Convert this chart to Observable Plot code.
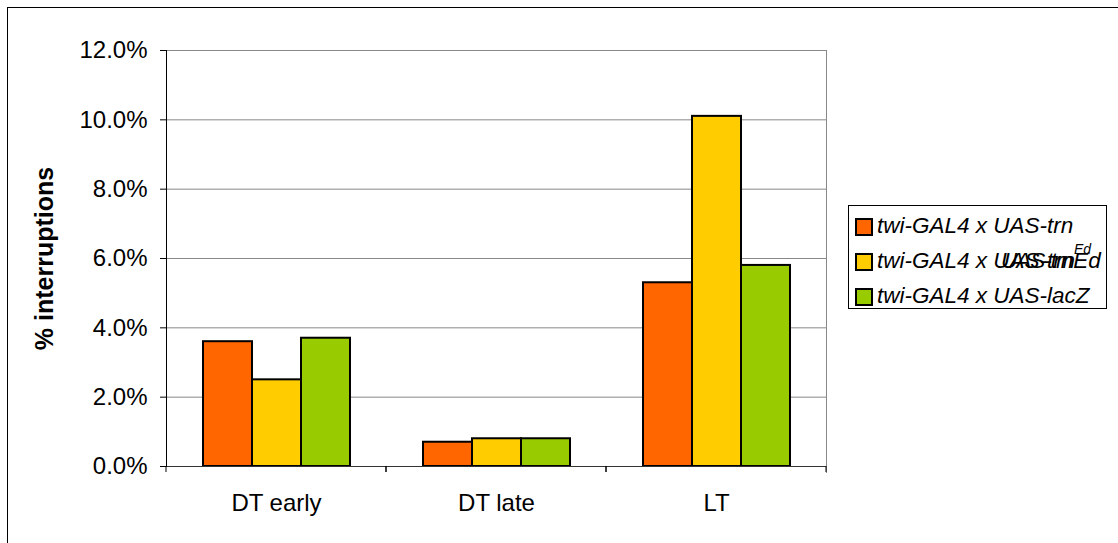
<!DOCTYPE html>
<html>
<head>
<meta charset="utf-8">
<script src="https://cdn.jsdelivr.net/npm/d3@7"></script>
<script src="https://cdn.jsdelivr.net/npm/@observablehq/plot@0.6"></script>
<style>
  html, body { margin: 0; padding: 0; background: #fff; }
  #wrap { position: relative; width: 1118px; height: 543px; overflow: hidden; font-family: "Liberation Sans", Arial, sans-serif; }
  #outer { position: absolute; left: 7px; top: 7px; width: 1200px; height: 700px; border-left: 1.5px solid #000; border-top: 1.5px solid #000; }
  #chart { position: absolute; left: 0; top: 0; }
  #legend { position: absolute; left: 848px; top: 205px; width: 259px; height: 104px; border: 1px solid #000; box-sizing: border-box; background: #fff; }
  .row { position: absolute; left: 6px; height: 24px; font-style: italic; font-size: 22.5px; line-height: 24px; white-space: nowrap; }
  .sw { position: absolute; left: 0; top: 4px; width: 14px; height: 14px; border: 2px solid #000; }
  .lab { position: absolute; left: 22px; top: 0; }
  .sup { font-size: 14px; position: relative; top: -14px; letter-spacing: 0; }
</style>
</head>
<body>
<div id="wrap">
  <div id="outer"></div>
  <div id="chart"></div>
  <div id="legend"></div>
</div>
<script>
// ---- data ----
const categories = ["DT early", "DT late", "LT"];
const series = ["twi-GAL4 x UAS-trn", "twi-GAL4 x UAS-trnEd", "twi-GAL4 x UAS-lacZ"];
const trnValues   = [0.036, 0.007, 0.053];
const trnEdValues = [0.025, 0.008, 0.101];
const lacZValues  = [0.037, 0.008, 0.058];
const colors = ["#ff6600", "#ffcc00", "#99cc00"];
const yTicks = [0, 0.02, 0.04, 0.06, 0.08, 0.10, 0.12];
const yLabel = "% interruptions";

const valueLists = [trnValues, trnEdValues, lacZValues];
const data = [];
categories.forEach((cat, i) => {
  series.forEach((s, j) => data.push({cat, series: s, value: valueLists[j][i]}));
});

function boundaryTicks(index, scales) {
  const [a, b] = scales.x.range();
  const y0 = scales.y(0);
  const g = d3.create("svg:g");
  g.append("path")
    .attr("d", `M${a},${y0}V${y0 + 6}M${b},${y0}V${y0 + 6}`)
    .attr("stroke", "#000")
    .attr("fill", "none");
  return g.node();
}

const chart = Plot.plot({
  width: 1118,
  height: 543,
  marginLeft: 166,
  marginRight: 292,
  marginTop: 50,
  marginBottom: 77,
  style: {fontFamily: "'Liberation Sans', Arial, sans-serif", fontSize: "24px", color: "#000", background: "transparent", overflow: "visible"},
  fx: {domain: categories, padding: 0, label: null},
  x: {domain: series, paddingInner: 0, paddingOuter: 0.73, axis: null},
  y: {domain: [0, 0.12]},
  color: {domain: series, range: colors},
  marks: [
    Plot.gridY(yTicks, {stroke: "#888", strokeOpacity: 1}),
    Plot.frame({fx: "LT", anchor: "right", stroke: "#888", strokeOpacity: 1, insetBottom: -6}),
    Plot.barY(data, {fx: "cat", x: "series", y: "value", fill: "series", stroke: "#000", strokeWidth: 2}),
    Plot.ruleY([0], {stroke: "#333"}),
    Plot.frame({fx: "DT early", anchor: "left", stroke: "#000", strokeOpacity: 1}),
    boundaryTicks,
    Plot.axisY({ticks: yTicks, tickFormat: d3.format(".1%"), tickSize: 6, tickPadding: 13, fontSize: 24,
      label: yLabel, labelAnchor: "center", labelOffset: 131, labelArrow: "none"}),
    Plot.axisFx({anchor: "bottom", tickSize: 0, tickPadding: 27, fontSize: 24, label: null})
  ]
});
document.getElementById("chart").appendChild(chart);

// style the y-axis label bold
chart.querySelectorAll("text").forEach(t => {
  if (t.textContent === yLabel) { t.setAttribute("font-weight", "bold"); t.setAttribute("font-size", "25"); }
});

// ---- legend ----
const legend = document.getElementById("legend");
const rowTops = [8, 43, 78];
series.forEach((s, j) => {
  const row = document.createElement("div");
  row.className = "row";
  row.style.top = rowTops[j] + "px";
  const sw = document.createElement("div");
  sw.className = "sw";
  sw.style.background = colors[j];
  row.appendChild(sw);
  const lab = document.createElement("div");
  lab.className = "lab";
  lab.textContent = s;
  row.appendChild(lab);
  if (j === 1) {
    const over = document.createElement("div");
    over.className = "lab";
    over.style.left = (22 + 124) + "px";
    over.style.letterSpacing = "-1px";
    over.innerHTML = "UAS-trn<span class=\"sup\">Ed</span>";
    row.appendChild(over);
  }
  legend.appendChild(row);
});
</script>
</body>
</html>
